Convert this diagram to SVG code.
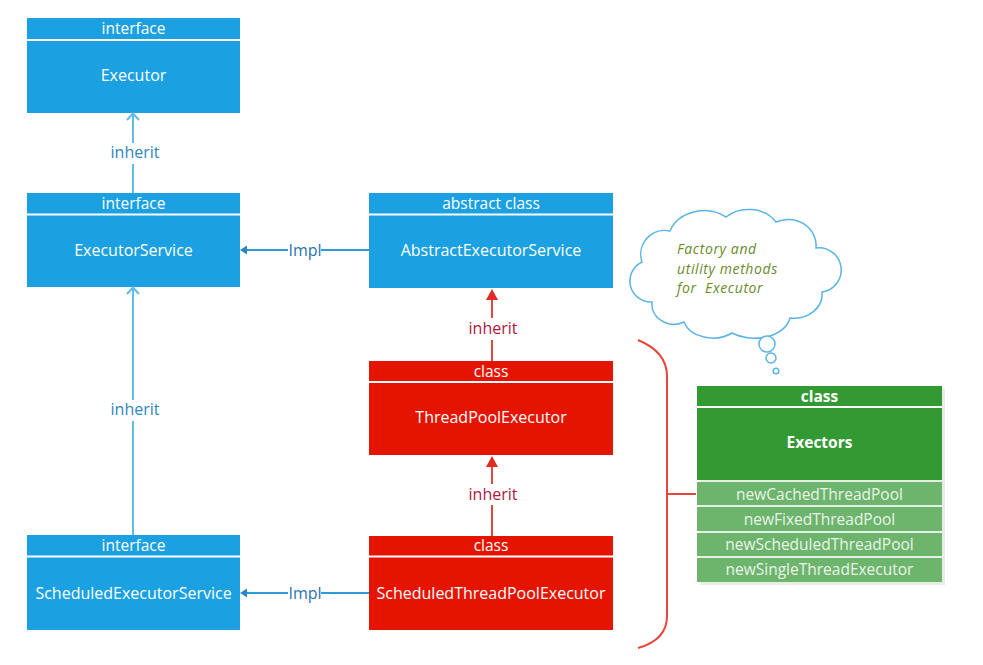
<svg xmlns="http://www.w3.org/2000/svg" width="983" height="665" viewBox="0 0 983 665">
<style>
text{font-family:"Open Sans","Noto Sans","Liberation Sans",sans-serif;text-anchor:middle}
.blue{fill:#1BA1E2}
.red{fill:#E51400}
.green{fill:#339933}
.row{fill:#6DB46D}
.sep{stroke:#FFFFFF;stroke-width:2}
.hdr{fill:#FFFFFF;font-size:15.5px}
.name{fill:#FFFFFF;font-size:16px}
.bold{font-weight:bold}
.rowt{fill:#EAF5EA;font-size:15.5px}
.bl{stroke:#63BBEA;stroke-width:2;fill:none}
.bi{stroke:#2E9BD6;stroke-width:2;fill:none}
.rl{stroke:#E8453C;stroke-width:2;fill:none}
.lb{fill:#2F86BF;font-size:16px}
.li{fill:#2A74AE;font-size:16px}
.lr{fill:#B0163E;font-size:16px}
.cloud{fill:#FFFFFF;stroke:#5BB4E5;stroke-width:1.5}
.ct{fill:#6A8A2A;font-size:14px;font-style:italic;text-anchor:start;letter-spacing:0.6px}
</style>

<g id="Executor">
<rect class="blue" x="27" y="18" width="213" height="95"/>
<line class="sep" x1="27" y1="40" x2="240" y2="40"/>
<text class="hdr" x="133.5" y="34">interface</text>
<text class="name" x="133.5" y="81">Executor</text>
</g>

<g id="ExecutorService">
<rect class="blue" x="27" y="193" width="213" height="94"/>
<line class="sep" x1="27" y1="214.5" x2="240" y2="214.5"/>
<text class="hdr" x="133.5" y="209">interface</text>
<text class="name" x="133.5" y="256">ExecutorService</text>
</g>

<g id="ScheduledExecutorService">
<rect class="blue" x="27" y="535" width="213" height="95"/>
<line class="sep" x1="27" y1="556.5" x2="240" y2="556.5"/>
<text class="hdr" x="133.5" y="551">interface</text>
<text class="name" x="133.5" y="598.5">ScheduledExecutorService</text>
</g>

<g id="AbstractExecutorService">
<rect class="blue" x="369" y="193" width="244" height="95"/>
<line class="sep" x1="369" y1="214.5" x2="613" y2="214.5"/>
<text class="hdr" x="491" y="209">abstract class</text>
<text class="name" x="491" y="256">AbstractExecutorService</text>
</g>

<g id="ThreadPoolExecutor">
<rect class="red" x="369" y="361" width="244" height="94"/>
<line class="sep" x1="369" y1="382" x2="613" y2="382"/>
<text class="hdr" x="491" y="376.5">class</text>
<text class="name" x="491" y="423">ThreadPoolExecutor</text>
</g>

<g id="ScheduledThreadPoolExecutor">
<rect class="red" x="369" y="536" width="244" height="94"/>
<line class="sep" x1="369" y1="556.5" x2="613" y2="556.5"/>
<text class="hdr" x="491" y="551">class</text>
<text class="name" x="491" y="598.5">ScheduledThreadPoolExecutor</text>
</g>

<g id="Executors">
<rect x="700" y="389" width="245" height="196" fill="#E6EEE6"/>
<rect class="green" x="697" y="386" width="245" height="94"/>
<line class="sep" x1="697" y1="407" x2="942" y2="407"/>
<rect class="row" x="697" y="482" width="245" height="23"/>
<rect class="row" x="697" y="507" width="245" height="24"/>
<rect class="row" x="697" y="533" width="245" height="23"/>
<rect class="row" x="697" y="558" width="245" height="24"/>
<text class="hdr bold" x="819.5" y="401.5">class</text>
<text class="hdr bold" x="819.5" y="447.5">Exectors</text>
<text class="rowt" x="819.5" y="499.5">newCachedThreadPool</text>
<text class="rowt" x="819.5" y="524.5">newFixedThreadPool</text>
<text class="rowt" x="819.5" y="549.5">newScheduledThreadPool</text>
<text class="rowt" x="819.5" y="574.5">newSingleThreadExecutor</text>
</g>

<g id="note">
<path class="cloud" d="M652,302 A21,21 0 0 1 642,262 A24,24 0 0 1 670,231 A36,30 0 0 1 726,217 A32,26 0 0 1 776,222 A28,26 0 0 1 816,248 A21,21 0 0 1 822,292 A28,24 0 0 1 790,318 A36,24 0 0 1 732,333 A30,22 0 0 1 684,322 A22,20 0 0 1 652,302 Z"/>
<circle class="cloud" cx="767" cy="344" r="8"/>
<circle class="cloud" cx="771" cy="358" r="5"/>
<circle class="cloud" cx="776" cy="371" r="2.8"/>
<text class="ct" x="677" y="254">Factory and</text>
<text class="ct" x="677" y="273.5">utility methods</text>
<text class="ct" x="677" y="293" xml:space="preserve">for  Executor</text>
</g>

<g id="connectors">
<line class="bl" x1="133" y1="113" x2="133" y2="143"/>
<line class="bl" x1="133" y1="164" x2="133" y2="193"/>
<polyline class="bl" points="127,120 133,113.5 139,120"/>
<text class="lb" x="135" y="158">inherit</text>

<line class="bl" x1="133" y1="287" x2="133" y2="400"/>
<line class="bl" x1="133" y1="421" x2="133" y2="535"/>
<polyline class="bl" points="127,294 133,287.5 139,294"/>
<text class="lb" x="135" y="415">inherit</text>

<line class="bi" x1="245" y1="250" x2="288" y2="250"/>
<line class="bi" x1="321" y1="250" x2="369" y2="250"/>
<polygon points="240,250 247,245.5 247,254.5" fill="#2C84C2"/>
<text class="li" x="305" y="256">Impl</text>

<line class="bi" x1="245" y1="593" x2="288" y2="593"/>
<line class="bi" x1="321" y1="593" x2="369" y2="593"/>
<polygon points="240,593 247,588.5 247,597.5" fill="#2C84C2"/>
<text class="li" x="305" y="599">Impl</text>

<line class="rl" x1="492" y1="298" x2="492" y2="318"/>
<line class="rl" x1="492" y1="340" x2="492" y2="361"/>
<polygon points="492,289 486,300 498,300" fill="#E02A22"/>
<text class="lr" x="493" y="334">inherit</text>

<line class="rl" x1="492" y1="465" x2="492" y2="484"/>
<line class="rl" x1="492" y1="505" x2="492" y2="536"/>
<polygon points="492,456 486,467 498,467" fill="#E02A22"/>
<text class="lr" x="493" y="500">inherit</text>

<path class="rl" stroke-width="1.5" d="M638,340 Q667,352 667,376 L667,616 Q667,640 638,648"/>
<line class="rl" stroke-width="1.5" x1="667" y1="494" x2="696" y2="494"/>
</g>
</svg>
